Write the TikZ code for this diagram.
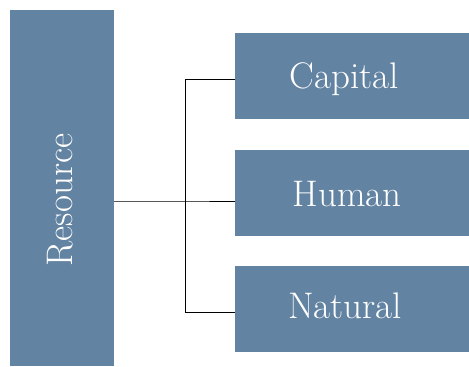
\documentclass[tikz,border=0pt]{standalone}
\definecolor{boxblue}{RGB}{98,131,161}
\begin{document}
\begin{tikzpicture}[x=1pt,y=-1pt,
  blk/.style={fill=boxblue,draw=none},
  lbl/.style={text=white,font=\fontsize{37}{42}\selectfont,inner sep=0pt,anchor=base},
  conn/.style={draw=black,line width=0.8pt}]
\useasboundingbox (0,0) rectangle (469,367);
\node[blk,minimum width=104pt,minimum height=356pt,anchor=north west] (resbox) at (10,10) {};
\node[blk,minimum width=234pt,minimum height=86pt,anchor=north west] (cap) at (235,33) {};
\node[blk,minimum width=234pt,minimum height=86pt,anchor=north west] (hum) at (235,150) {};
\node[blk,minimum width=234pt,minimum height=86pt,anchor=north west] (nat) at (235,266) {};
\node[lbl,rotate=90] (res) at (72,200) {Resource};
\node[lbl] (tcap) at (344,88) {Capital};
\node[lbl] (thum) at (347,206) {Human};
\node[lbl] (tnat) at (345,318) {Natural};
\coordinate (rs) at (114,201);
\coordinate (jc) at (185,79);
\coordinate (jh) at (185,201);
\coordinate (jn) at (185,312);
\draw[conn] (rs) -- (jh) -- (jh -| hum.west);
\draw[conn] (jc -| cap.west) -- (jc) -- (jn) -- (jn -| nat.west);
\end{tikzpicture}
\end{document}
